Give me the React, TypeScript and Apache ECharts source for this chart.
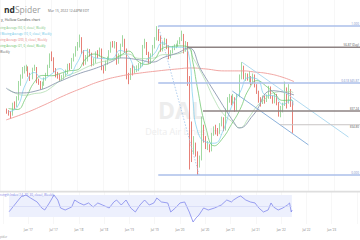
import React, { useEffect, useRef } from "react";
import * as echarts from "echarts";

// ---------------- data ----------------
// bi-weekly candles (open = previous close)
const candleStartDate = "2016-08-18";
const candleStepDays = 14;
const firstOpen = 37.5;
const closes = [
  37.0, 36.5, 36.0, 39.3, 39.0, 41.0, 45.5, 47.5, 49.5, 50.0,
  50.5, 48.5, 47.5, 50.0, 50.5, 46.5, 46.0, 44.5, 45.5, 47.0, 48.5, 51.0, 54.0, 53.5, 50.0, 48.5, 48.0, 47.2, 47.5, 48.2, 49.0, 51.0, 50.5, 53.0, 54.5, 56.5,
  57.5, 59.5, 55.5, 52.5, 53.0, 55.5, 54.8, 52.0, 52.5, 55.0, 54.5, 56.0, 50.5, 50.0, 52.0, 53.5, 55.5, 58.0, 57.5, 58.0, 52.5, 54.0, 57.5, 59.0, 56.0, 48.5,
  47.5, 49.5, 49.4, 50.0, 50.0, 51.0, 51.5, 57.0, 58.0, 55.0, 52.5, 54.5, 57.0, 59.5, 61.5, 60.0, 56.0, 58.0, 59.0, 57.0, 54.0, 55.5, 56.5, 57.0, 57.5, 58.5,
  59.5, 60.5, 56.0, 58.0, 46.0, 33.0, 26.5, 26.5, 24.0, 21.5, 22.0, 30.5, 28.5, 26.0, 26.5, 25.0, 30.0, 31.5, 31.0, 30.5, 33.0, 35.0, 31.5, 37.0, 40.5, 41.5,
  40.2, 41.0, 37.5, 42.0, 47.5, 51.0, 47.5, 48.0, 47.5, 47.5, 46.0, 48.0, 45.0, 43.0, 41.0, 40.0, 41.5, 40.5, 41.5, 44.5, 41.5, 40.0, 42.0, 39.5, 36.0, 38.0,
  39.1, 43.5, 40.0, 43.5, 40.0, 34.5,
];
const highs = [
  38.0, 37.5, 37.2, 39.8, 40.2, 41.8, 46.5, 48.5, 50.8, 51.2,
  51.5, 51.0, 49.0, 50.6, 51.5, 50.8, 47.2, 46.5, 46.3, 47.6, 49.0, 51.5, 55.0, 55.6, 53.8, 50.5, 49.3, 48.6, 48.3, 48.9, 50.0, 51.8, 52.0, 53.6, 55.0, 57.2,
  58.5, 60.8, 60.0, 56.0, 54.5, 56.5, 56.3, 55.2, 53.5, 55.6, 56.0, 56.8, 56.5, 51.2, 52.8, 54.0, 56.0, 58.6, 58.8, 58.8, 58.5, 55.0, 58.0, 60.6, 59.5, 56.5,
  49.0, 50.5, 51.5, 51.0, 51.3, 52.0, 52.2, 57.6, 59.5, 58.5, 55.5, 55.0, 57.6, 60.0, 63.4, 62.5, 60.5, 58.5, 59.8, 59.5, 57.5, 56.0, 57.2, 57.8, 58.0, 59.0,
  60.0, 62.0, 61.0, 58.8, 58.5, 48.0, 34.0, 29.5, 27.5, 24.8, 23.5, 35.5, 33.0, 29.5, 28.0, 27.0, 30.5, 32.5, 33.0, 32.0, 33.5, 35.5, 35.3, 38.0, 41.5, 42.5,
  42.0, 42.5, 41.5, 42.5, 48.5, 52.3, 51.2, 49.0, 48.8, 49.5, 48.0, 48.8, 48.5, 45.5, 43.5, 41.5, 42.0, 42.0, 42.3, 45.0, 44.8, 42.0, 42.8, 42.5, 40.0, 38.8,
  39.8, 46.3, 44.5, 45.5, 44.0, 40.2,
];
const lows = [
  36.4, 35.8, 34.8, 35.8, 37.9, 38.5, 40.5, 45.0, 47.2, 48.8,
  49.5, 47.8, 46.5, 47.0, 49.6, 45.8, 45.3, 43.8, 43.9, 45.0, 46.6, 48.0, 50.5, 52.6, 49.2, 47.6, 47.2, 46.5, 46.5, 47.0, 47.8, 48.6, 49.8, 50.2, 52.5, 54.0,
  55.8, 56.8, 54.8, 51.2, 51.5, 52.5, 54.0, 51.0, 51.2, 52.0, 53.5, 54.0, 49.8, 48.8, 49.6, 51.5, 53.0, 55.2, 56.8, 56.5, 51.5, 51.8, 53.5, 57.0, 55.2, 47.0,
  45.5, 46.8, 48.2, 48.8, 49.2, 49.5, 50.5, 51.0, 56.5, 54.5, 51.8, 51.8, 54.0, 56.5, 59.0, 58.8, 55.5, 55.6, 57.5, 56.3, 53.2, 53.5, 55.0, 56.0, 56.6, 57.0,
  57.8, 58.8, 55.0, 55.5, 45.0, 19.2, 21.5, 24.0, 23.2, 17.5, 19.8, 22.0, 27.5, 25.5, 25.2, 24.5, 24.8, 29.6, 30.0, 29.5, 30.2, 32.5, 31.0, 31.2, 37.0, 39.8,
  39.0, 39.5, 37.0, 37.2, 41.5, 47.0, 47.0, 46.5, 46.6, 46.0, 45.2, 45.5, 44.5, 42.5, 39.8, 38.6, 39.4, 39.5, 40.0, 41.0, 41.0, 39.5, 39.6, 39.0, 35.5, 35.3,
  36.8, 38.8, 38.0, 39.5, 38.5, 30.5,
];

// moving averages (x = months since Jan 2016)
const maMonths = [8, 10, 12, 14, 16, 18, 20, 22, 24, 26, 28, 30, 32, 34, 36, 38, 40, 42, 44, 46, 48, 50, 51, 52, 54, 56, 58, 60, 62, 64, 66, 68, 70, 72, 74, 74.4];
const ema10 = [37.0, 38.4, 45.6, 49.1, 47.1, 48.6, 50.3, 48.2, 52.1, 55.9, 53.7, 53.4, 53.3, 55.9, 54.0, 49.9, 52.8, 54.9, 58.3, 56.9, 56.9, 55.0, 41.0, 31.5, 27.7, 27.3, 31.0, 38.5, 43.0, 47.5, 47.1, 42.1, 41.9, 39.3, 40.7, 39.0];
const sma21 = [38.0, 37.7, 41.2, 46.1, 48.2, 48.1, 48.8, 49.6, 49.9, 53.3, 54.8, 53.8, 53.2, 54.3, 55.7, 52.8, 51.6, 53.1, 56.6, 57.1, 57.3, 56.9, 52.3, 44.8, 32.3, 26.5, 28.9, 33.1, 37.7, 43.8, 46.6, 45.0, 42.7, 40.5, 40.6, 40.2];
const sma50 = [44.0, 42.5, 42.1, 42.6, 43.0, 44.5, 46.7, 48.3, 49.3, 50.6, 51.7, 52.5, 52.9, 54.2, 54.8, 53.5, 53.4, 53.6, 54.6, 54.7, 55.0, 56.4, 53.8, 51.4, 46.4, 40.8, 36.5, 34.1, 32.1, 35.1, 38.8, 41.1, 42.9, 43.2, 43.2, 42.8];
const grayMonths = [7.45, 10.1, 15.2, 19.65, 24.1, 28.5, 31.85, 34.1, 38.5, 41.4, 44.5, 47.4, 50.0, 52.9, 56.2, 60.7, 61.8, 65.1, 69.6, 74.6];
const grayValues = [44.3, 42.8, 43.7, 46.2, 48.6, 50.5, 52.3, 53.6, 53.0, 52.3, 53.9, 55.1, 56.7, 49.9, 42.8, 33.5, 32.0, 36.0, 43.5, 42.2];
const redMonths = [7.45, 11.9, 16.3, 20.8, 25.2, 29.6, 34.1, 38.5, 42.9, 47.4, 50.7, 54.0, 58.4, 62.9, 65.1, 68.4, 71.8, 74.6];
const redValues = [34.5, 36.6, 39.1, 41.9, 44.3, 46.5, 48.0, 48.9, 49.6, 50.2, 50.5, 50.2, 49.6, 49.6, 49.3, 48.8, 47.7, 46.3];

// RSI (14)
const rsiMonths = [7.45, 10.3, 11.45, 12.55, 14.1, 15.2, 15.9, 17.0, 18.1, 19.0, 19.65, 20.76, 22.3, 23.0, 24.1, 25.2, 26.3, 27.4, 28.5, 29.6, 31.2, 32.3, 32.95, 34.06, 35.2, 36.3, 37.4, 38.5, 39.6, 40.7, 41.8, 42.5, 43.6, 45.1, 45.8, 46.9, 48.0, 49.1, 50.2, 51.1, 51.8, 52.5, 53.6, 54.7, 56.2, 57.8, 59.1, 60.2, 60.7, 61.8, 62.4, 63.6, 64.7, 65.8, 66.7, 67.8, 68.9, 69.6, 70.2, 71.3, 72.4, 73.5, 74.0, 74.4, 74.6];
const rsiValues = [39.6, 66.9, 70, 64.5, 57.3, 46.4, 42.7, 55.5, 70, 60.9, 46.4, 42.7, 48.2, 60.9, 55.5, 51.8, 55.5, 48.2, 55.5, 51.8, 46.4, 57.3, 60.9, 51.8, 60.9, 46.4, 39.1, 51.8, 60.9, 51.8, 55.5, 64.5, 57.3, 55.5, 39.1, 46.4, 55.5, 57.3, 39.1, 20.9, 28.2, 33.6, 46.4, 42.7, 46.4, 51.8, 60.9, 57.3, 60.9, 66.4, 68.2, 60.9, 57.3, 55.5, 46.4, 39.1, 42.7, 55.5, 48.2, 42.7, 46.4, 51.8, 55.5, 39.1, 42.7];
const rsiBand = [30, 70];

// horizontal levels
const levelPrices = [63.44, 56.87, 45.87, 37.24, 33.0, 17.51];
const levelStartMonths = [42.93, 49.6, 42.93, 53.35, 71.3, 42.93];
const levelLabels = ["1.000", "56.87 (Day)", "0.618 $45.87", "$37.24", "$34.80", "0.000"];
const levelKinds = ["fib", "level", "fib", "level", "light", "fib"];

// drawn trend lines [month, price]
const fibDiagonal = [[42.93, 63.44], [52.46, 17.51]];
const channelUpper = [[62.44, 52.3], [87.3, 29.2]];
const channelLower = [[60.2, 43.4], [77.96, 26.8]];

const legendRows = [
  "ving Average (50, 0, close), Weekly",
  "l Moving Average (10, 0, close), Weekly",
  "ving Average (200, 0, close), Weekly",
  "ving Average (21, 0, close), Weekly",
  "Weekly",
];

// ---------------- helpers ----------------
function toMonth(d: Date): number {
  const y = d.getUTCFullYear();
  const mo = d.getUTCMonth();
  const dim = new Date(Date.UTC(y, mo + 1, 0)).getUTCDate();
  return (y - 2016) * 12 + mo + (d.getUTCDate() - 1) / dim;
}
function monthLabel(v: number): string {
  const y = Math.floor(v / 12);
  const mo = Math.round(v - y * 12);
  return (mo === 0 ? "Jan" : "Jul") + " '" + String(16 + y).padStart(2, "0");
}
const zip = (xs: number[], ys: number[]) => xs.map((x, i) => [x, ys[i]]);

const FONT = "'Open Sans', 'DejaVu Sans', sans-serif";

export default function App() {
  const ref = useRef<HTMLDivElement>(null);

  useEffect(() => {
    if (!ref.current) return;
    const chart = echarts.init(ref.current, undefined, { renderer: "svg" });

    const t0 = Date.parse(candleStartDate + "T00:00:00Z");
    const candleMonths = closes.map((_, i) => toMonth(new Date(t0 + i * candleStepDays * 86400000)));
    const candleData = closes.map((c, i) => [candleMonths[i], i === 0 ? firstOpen : closes[i - 1], c, lows[i], highs[i]]);
    const lastM = candleMonths[candleMonths.length - 1] + 0.25;
    const firstM = 7.45;

    const xMin = 6, xMax = 90, pxPerMonth = 4.51, jan17X = 20.5;
    const gridLeft = jan17X - (12 - xMin) * pxPerMonth;
    const gridRight = 360 - (gridLeft + (xMax - xMin) * pxPerMonth);

    const xAxisBase = {
      type: "value" as const,
      min: xMin,
      max: xMax,
      interval: 6,
      axisLine: { show: false },
      axisTick: { show: false },
      splitLine: { show: true, lineStyle: { color: "#f1f1f1", width: 0.6 } },
    };

    const maLine = (data: number[][], color: string, width = 0.8, smooth = true) => ({
      type: "line",
      xAxisIndex: 0,
      yAxisIndex: 0,
      data,
      showSymbol: false,
      symbol: "none",
      smooth,
      silent: true,
      z: 3,
      lineStyle: { color, width },
    });

    const levelStyle = (k: string) =>
      k === "fib"
        ? { color: "#abbfea", width: 1.4 }
        : k === "level"
        ? { color: "#8e8383", width: 1.4 }
        : { color: "#c9c4c4", width: 1 };

    const option: any = {
      animation: false,
      backgroundColor: "#ffffff",
      textStyle: { fontFamily: FONT },
      grid: [
        { left: gridLeft, right: gridRight, top: 0, height: 192 },
        { left: gridLeft, right: gridRight, top: 192, height: 32 },
      ],
      xAxis: [
        { ...xAxisBase, gridIndex: 0, axisLabel: { show: false } },
        {
          ...xAxisBase,
          gridIndex: 1,
          axisLabel: {
            show: true,
            fontSize: 2.9,
            color: "#7a7a7a",
            margin: 4.5,
            fontFamily: FONT,
            formatter: (v: number) => (v <= xMin || v >= xMax ? "" : monthLabel(v)),
          },
        },
      ],
      yAxis: [
        { type: "value", gridIndex: 0, min: 12.27, max: 71.454, show: false, splitLine: { show: false } },
        { type: "value", gridIndex: 1, min: 17.27, max: 75.45, show: false, splitLine: { show: false } },
      ],
      series: [
        {
          type: "candlestick",
          xAxisIndex: 0,
          yAxisIndex: 0,
          data: candleData,
          encode: { x: 0, y: [1, 2, 3, 4] },
          barWidth: 1.1,
          z: 2,
          silent: true,
          itemStyle: {
            color: "#79c979",
            color0: "#dc4a3e",
            borderColor: "#79c979",
            borderColor0: "#dc4a3e",
            borderWidth: 0.7,
          },
        },
        maLine(zip(redMonths, redValues), "#ef9c98", 0.9),
        maLine(zip(maMonths, sma50), "#a6d8a6", 0.7),
        maLine(zip(maMonths, sma21), "#62c262", 0.7),
        maLine(zip(maMonths, ema10), "#78cdee", 0.7),
        maLine(zip(grayMonths, grayValues), "#8d9ab0", 0.9),
        ...levelPrices.map((p, i) => ({
          type: "line",
          xAxisIndex: 0,
          yAxisIndex: 0,
          data: [[levelStartMonths[i], p], [xMax, p]],
          symbol: "none",
          silent: true,
          z: 4,
          lineStyle: levelStyle(levelKinds[i]),
        })),
        { ...maLine(fibDiagonal, "#9fc3ea", 0.8, false), lineStyle: { color: "#9fc3ea", width: 0.8, type: [1.5, 1.5] } },
        maLine(channelUpper, "#a7d6ee", 0.9, false),
        maLine(channelLower, "#7fa9d8", 0.9, false),
        {
          type: "line",
          xAxisIndex: 1,
          yAxisIndex: 1,
          data: zip(rsiMonths, rsiValues),
          symbol: "none",
          silent: true,
          z: 3,
          lineStyle: { color: "#8288ec", width: 0.8 },
          markArea: {
            silent: true,
            itemStyle: { color: "#edf0fd" },
            data: [[{ xAxis: firstM, yAxis: rsiBand[0] }, { xAxis: lastM, yAxis: rsiBand[1] }]],
          },
          markLine: {
            silent: true,
            symbol: "none",
            label: { show: false },
            lineStyle: { color: "#cfd4f5", width: 0.6, type: "solid" },
            data: [[{ coord: [firstM, 50] }, { coord: [lastM, 50] }]],
          },
        },
      ],
    };

    const txt = (text: string, x: number, y: number, size: number, fill: string, extra: any = {}) => ({
      type: "text",
      x,
      y,
      z: 100,
      silent: true,
      style: { text, fill, fontSize: size, fontFamily: FONT, verticalAlign: "middle", align: "left", ...extra },
    });

    const legendColors = ["#74c474", "#5cc3e6", "#e6807c", "#58bd58", "#555555"];
    const staticEls: any[] = [
      {
        type: "text",
        x: 181,
        y: 109.5,
        z: 0,
        silent: true,
        style: { text: "DAL", fill: "#ededed", fontSize: 23, fontWeight: "bold", fontFamily: FONT, align: "center", verticalAlign: "middle" },
      },
      {
        type: "text",
        x: 185,
        y: 131.5,
        z: 0,
        silent: true,
        style: { text: "Delta Air Lines, Inc.", fill: "#eeeeee", fontSize: 9, fontFamily: FONT, align: "center", verticalAlign: "middle" },
      },
      {
        type: "rect",
        silent: true,
        z: 50,
        shape: { x: 0, y: 190.8, width: 360, height: 1.6 },
        style: { fill: "#dedede" },
      },
      {
        type: "text",
        x: 4,
        y: 9.5,
        z: 100,
        silent: true,
        style: {
          text: "{a|nd}{b|Spider}",
          verticalAlign: "middle",
          rich: {
            a: { fontSize: 8.5, fontWeight: "bold", fill: "#2e2e2e", fontFamily: FONT },
            b: { fontSize: 8.5, fill: "#9a9a9a", fontFamily: FONT },
          },
        },
      },
      txt("Mar 15, 2022 12:44PM EDT", 48, 10, 3.3, "#6a6a6a"),
      txt("y, Hollow Candles chart", 1, 19, 3.6, "#444444"),
      ...legendRows.map((r, i) => txt(r, 0, 27.5 + i * 6, 2.9, legendColors[i])),
      txt("rength Index (14, 70, 30, close), Weekly", 0, 195, 3, "#7a81e4"),
      txt("pider", 0, 237, 3, "#9a9a9a"),
    ];

    chart.setOption(option);

    const labelEls = levelPrices.map((p, i) => {
      const pt = chart.convertToPixel({ xAxisIndex: 0, yAxisIndex: 0 }, [80, p]) as number[];
      const k = levelKinds[i];
      return txt(levelLabels[i], 359, k === "light" ? pt[1] + 0.8 : pt[1] - 0.8, 3, k === "fib" ? "#7c90c8" : "#555555", {
        align: "right",
        verticalAlign: k === "light" ? "top" : "bottom",
      });
    });

    chart.setOption({ graphic: { elements: [...staticEls, ...labelEls] } });

    return () => chart.dispose();
  }, []);

  return (
    <div
      ref={ref}
      style={{ position: "fixed", left: 0, top: 0, width: 360, height: 240, background: "#ffffff" }}
    />
  );
}
